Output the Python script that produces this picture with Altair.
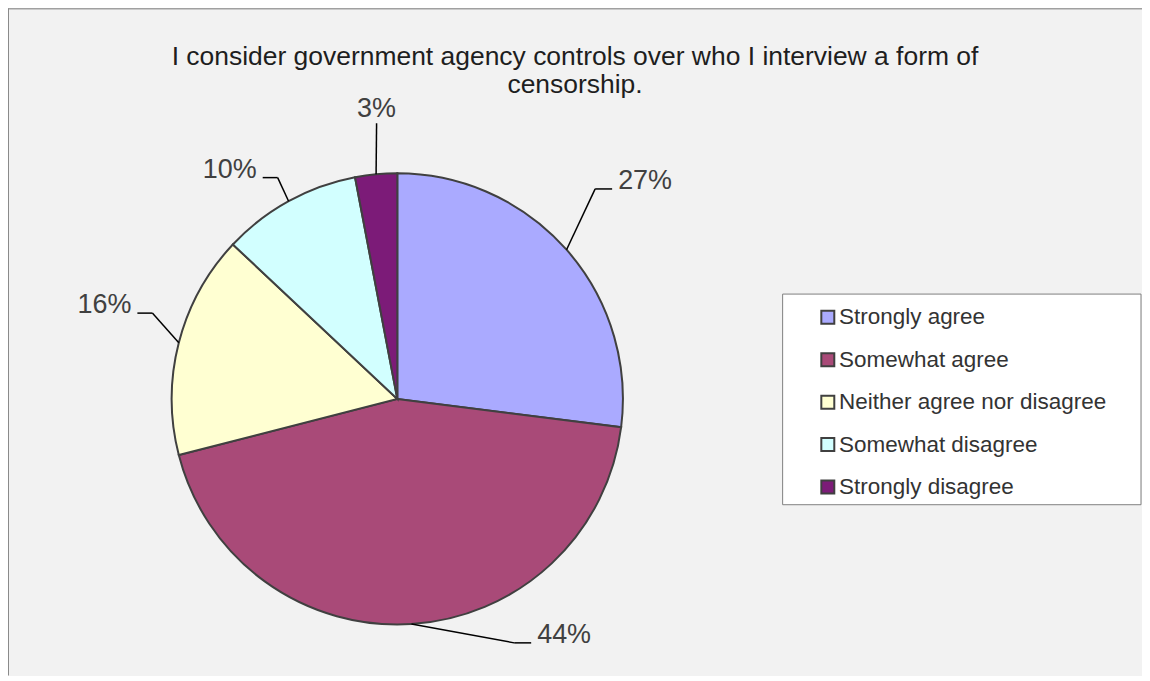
import altair as alt
import pandas as pd

# ---- data ----
CATEGORIES = ["Strongly agree", "Somewhat agree", "Neither agree nor disagree",
              "Somewhat disagree", "Strongly disagree"]
VALUES = [27, 44, 16, 10, 3]
COLORS = ["#AAAAFF", "#A94A78", "#FFFFD2", "#D2FFFF", "#7C1B78"]
TITLE_LINES = ["I consider government agency controls over who I interview a form of",
               "censorship."]

# ---- layout (label leader geometry, not data) ----
ELBOW_R = [289, 271, 260, 252, 277]
ELBOW_SHIFT = [-5.3, -22, 4.9, 0.4, 1.1]
STUB = [17, 17, 15, 15, 0]

CX, CY, R = 390, 391, 226
FONT = "Liberation Sans"
W, H = 1136, 668

df = pd.DataFrame({
    "category": CATEGORIES,
    "value": VALUES,
    "order": list(range(len(VALUES))),
    "elbow_r": ELBOW_R,
    "shift": ELBOW_SHIFT,
    "stub": STUB,
})

base = alt.Chart(df)

pie = base.mark_arc(radius=R, stroke="#404040", strokeWidth=2).encode(
    theta=alt.Theta("value:Q", stack=True),
    order=alt.Order("order:Q"),
    color=alt.Color(
        "category:N",
        scale=alt.Scale(domain=CATEGORIES, range=COLORS),
        sort=CATEGORIES,
        legend=alt.Legend(
            title=None, orient="none", legendX=810, legendY=298,
            symbolType="square", symbolSize=169, symbolStrokeColor="#404040",
            symbolStrokeWidth=2, labelFont=FONT, labelFontSize=22.5,
            labelColor="#333333", rowPadding=19.5, labelOffset=0, padding=0,
            labelLimit=400,
        ),
    ),
    x=alt.value(CX),
    y=alt.value(CY),
)

geo = base.transform_joinaggregate(total="sum(value)").transform_window(
    cum="sum(value)", sort=[alt.SortField("order")]
).transform_calculate(
    mid="(datum.cum - datum.value/2) / datum.total * 2 * PI",
).transform_calculate(
    ex=f"{CX} + {R} * sin(datum.mid)",
    ey=f"{CY} - {R} * cos(datum.mid)",
    la="datum.mid + datum.shift * PI / 180",
).transform_calculate(
    bx=f"{CX} + datum.elbow_r * sin(datum.la)",
    by=f"{CY} - datum.elbow_r * cos(datum.la)",
    side="sin(datum.la) >= 0 ? 1 : -1",
    anchor="datum.stub == 0 ? 'center' : (sin(datum.la) >= 0 ? 'left' : 'right')",
    label="datum.value + '%'",
).transform_calculate(
    sx="datum.bx + datum.side * datum.stub",
    tx="datum.stub == 0 ? datum.bx : datum.bx + datum.side * (datum.stub + 6)",
    ty="datum.stub == 0 ? datum.by - 6 : datum.by",
)

leader1 = geo.mark_rule(color="#000000", strokeWidth=1.5).encode(
    x=alt.X("ex:Q", scale=None, axis=None),
    y=alt.Y("ey:Q", scale=None, axis=None),
    x2="bx:Q",
    y2="by:Q",
)
leader2 = geo.transform_filter("datum.stub > 0").mark_rule(color="#000000", strokeWidth=1.5).encode(
    x=alt.X("bx:Q", scale=None, axis=None),
    y=alt.Y("by:Q", scale=None, axis=None),
    x2="sx:Q",
    y2="by:Q",
)

def label_layer(anchor):
    return geo.transform_filter(f"datum.anchor == '{anchor}'").mark_text(
        align=anchor, baseline="alphabetic", font=FONT, fontSize=27, color="#404040"
    ).encode(
        x=alt.X("tx:Q", scale=None, axis=None),
        y=alt.Y("ty:Q", scale=None, axis=None),
        text="label:N",
    )

labels = [label_layer(a) for a in ("left", "right", "center")]

one = pd.DataFrame({"k": [0]})

legend_box = alt.Chart(one).mark_rect(
    fill="#FFFFFF", stroke="#808080", strokeWidth=1
).encode(
    x=alt.value(776), x2=alt.value(W - 1), y=alt.value(286), y2=alt.value(497)
)

title = alt.Chart(one).mark_text(
    align="center", baseline="alphabetic", font=FONT, fontSize=26.5,
    color="#1E1E1E", lineHeight=28
).encode(
    text=alt.value(TITLE_LINES), x=alt.value(568), y=alt.value(56.5)
)

frame = alt.Chart(one).mark_rule(color="#A0A0A0", strokeWidth=2).encode(
    x=alt.value(0), x2=alt.value(W), y=alt.value(0), y2=alt.value(0)
)
frame_l = alt.Chart(one).mark_rule(color="#8A8A8A", strokeWidth=2).encode(
    x=alt.value(0), x2=alt.value(0), y=alt.value(0), y2=alt.value(H)
)

chart = alt.layer(
    legend_box, pie, leader1, leader2, *labels, title, frame, frame_l
).properties(
    width=W, height=H, background="#F2F2F2", padding=0,
    autosize=alt.AutoSizeParams(type="none"),
).configure_view(stroke=None)

chart.save("out.html", embed_options={"renderer": "svg", "actions": False})
